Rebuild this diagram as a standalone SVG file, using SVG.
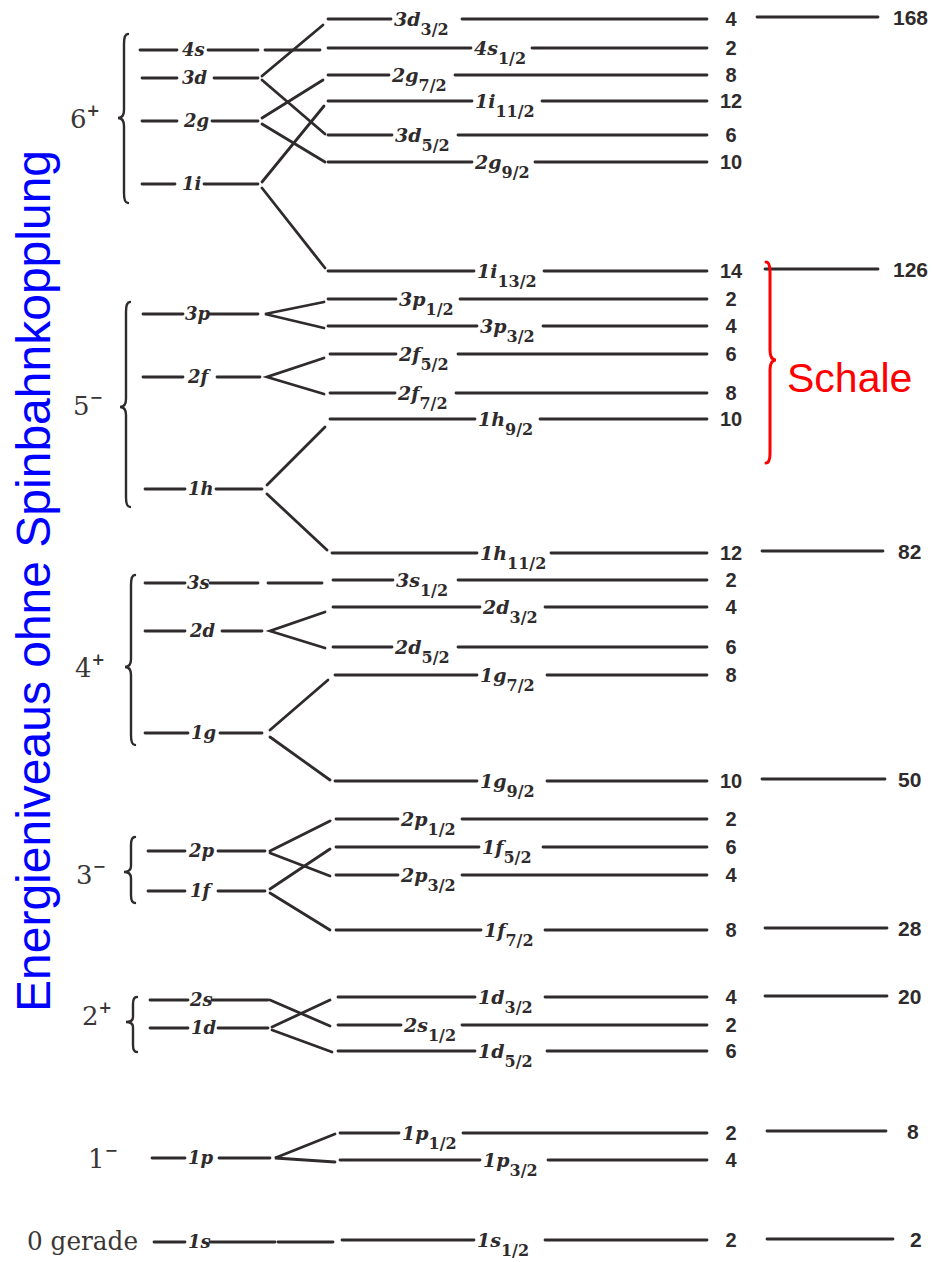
<svg xmlns="http://www.w3.org/2000/svg" width="932" height="1262" viewBox="0 0 932 1262">
  <style>
    .ln { stroke: #2f2b2c; stroke-width: 2.8; fill: none; stroke-linecap: round; }
    .br { stroke: #2f2b2c; stroke-width: 2.4; fill: none; stroke-linecap: round; }
    .lb { font-family: "DejaVu Serif", serif; font-style: italic; font-weight: bold; font-size: 19px; fill: #2f2b2c; }
    .sb { font-size: 16px; font-style: normal; }
    .lv { font-family: "DejaVu Serif", serif; font-style: italic; font-weight: bold; font-size: 18px; fill: #2f2b2c; }
    .ct { font-family: "Liberation Sans", sans-serif; font-weight: bold; font-size: 20px; fill: #2f2b2c; text-anchor: middle; }
    .tt { font-family: "Liberation Sans", sans-serif; font-weight: bold; font-size: 21px; fill: #2f2b2c; }
    .pa { font-family: "DejaVu Serif", serif; font-size: 26px; fill: #3a3636; }
    .sup { font-size: 16px; font-weight: bold; }
  </style>
  <rect width="932" height="1262" fill="#ffffff"/>

  <!-- vertical axis caption -->
  <text id="axis-caption" transform="translate(50,1012) rotate(-90)" font-family="'Liberation Sans', Arial, sans-serif" font-size="48" fill="#0000ff">Energieniveaus ohne Spinbahnkopplung</text>

  <!-- parity groups: labels and braces -->
  <g id="group-6">
    <text class="pa" x="70" y="128">6<tspan class="sup" dy="-12">+</tspan></text>
    <path class="br" d="M128,34 Q124,34 124,44 L124,110 Q124,118 118,118 Q124,118 124,126 L124,193 Q124,203 128,203"/>
  </g>
  <g id="group-5">
    <text class="pa" x="73" y="415">5<tspan class="sup" dy="-12">−</tspan></text>
    <path class="br" d="M130,302 Q126,302 126,312 L126,399 Q126,407 120,407 Q126,407 126,415 L126,497 Q126,507 130,507"/>
  </g>
  <g id="group-4">
    <text class="pa" x="75" y="677">4<tspan class="sup" dy="-12">+</tspan></text>
    <path class="br" d="M135,575 Q131,575 131,585 L131,659 Q131,667 125,667 Q131,667 131,675 L131,735 Q131,745 135,745"/>
  </g>
  <g id="group-3">
    <text class="pa" x="76" y="884">3<tspan class="sup" dy="-12">−</tspan></text>
    <path class="br" d="M135,837 Q131,837 131,845 L131,866 Q131,872 124,872 Q131,872 131,878 L131,895 Q131,903 135,903"/>
  </g>
  <g id="group-2">
    <text class="pa" x="82" y="1025">2<tspan class="sup" dy="-12">+</tspan></text>
    <path class="br" d="M137,997 Q133,997 133,1004 L133,1017 Q133,1022 126,1022 Q133,1022 133,1027 L133,1045 Q133,1052 137,1052"/>
  </g>
  <g id="group-1">
    <text class="pa" x="88" y="1168">1<tspan class="sup" dy="-12">−</tspan></text>
  </g>
  <g id="group-0">
    <text class="pa" x="27" y="1250" textLength="111" lengthAdjust="spacingAndGlyphs">0 gerade</text>
  </g>

  <!-- levels without spin-orbit coupling -->
  <g id="lvl-4s"><path class="ln" d="M140,50 H177 M208,50 H258"/><text class="lv" x="182" y="56">4s</text></g>
  <g id="lvl-3d"><path class="ln" d="M142,78 H177 M214,78 H258"/><text class="lv" x="182" y="84">3d</text></g>
  <g id="lvl-2g"><path class="ln" d="M142,121 H177 M212,121 H258"/><text class="lv" x="184" y="127">2g</text></g>
  <g id="lvl-1i"><path class="ln" d="M142,184 H175 M204,184 H258"/><text class="lv" x="182" y="190">1i</text></g>
  <g id="lvl-3p"><path class="ln" d="M143,314 H183 M210,314 H258"/><text class="lv" x="185" y="320">3p</text></g>
  <g id="lvl-2f"><path class="ln" d="M143,377 H183 M217,377 H260"/><text class="lv" x="188" y="383">2f</text></g>
  <g id="lvl-1h"><path class="ln" d="M145,489 H185 M216,489 H262"/><text class="lv" x="188" y="495">1h</text></g>
  <g id="lvl-3s"><path class="ln" d="M145,583 H185 M210,583 H258"/><text class="lv" x="187" y="589">3s</text></g>
  <g id="lvl-2d"><path class="ln" d="M145,631 H185 M222,631 H262"/><text class="lv" x="190" y="637">2d</text></g>
  <g id="lvl-1g"><path class="ln" d="M145,733 H188 M220,733 H262"/><text class="lv" x="191" y="739">1g</text></g>
  <g id="lvl-2p"><path class="ln" d="M148,851 H185 M218,851 H265"/><text class="lv" x="189" y="857">2p</text></g>
  <g id="lvl-1f"><path class="ln" d="M148,891 H185 M218,891 H265"/><text class="lv" x="190" y="897">1f</text></g>
  <g id="lvl-2s"><path class="ln" d="M150,1000 H188 M212,1000 H268"/><text class="lv" x="190" y="1006">2s</text></g>
  <g id="lvl-1d"><path class="ln" d="M150,1028 H188 M218,1028 H268"/><text class="lv" x="191" y="1034">1d</text></g>
  <g id="lvl-1p"><path class="ln" d="M152,1158 H185 M219,1158 H270"/><text class="lv" x="188" y="1164">1p</text></g>
  <g id="lvl-1s"><path class="ln" d="M154,1242 H185 M210,1242 H275"/><text class="lv" x="188" y="1248">1s</text></g>

  <!-- split levels with occupation numbers -->
  <g id="lvl-3d32"><path class="ln" d="M328,19 H391 M462,19 H707"/><text class="lb" x="394" y="26">3d<tspan class="sb" dy="9">3/2</tspan></text><text class="ct" x="731" y="26">4</text></g>
  <g id="lvl-4s12"><path class="ln" d="M328,48 H471 M532,48 H707"/><text class="lb" x="474" y="55">4s<tspan class="sb" dy="9">1/2</tspan></text><text class="ct" x="731" y="55">2</text></g>
  <g id="lvl-2g72"><path class="ln" d="M328,75 H389 M455,75 H707"/><text class="lb" x="392" y="82">2g<tspan class="sb" dy="9">7/2</tspan></text><text class="ct" x="731" y="82">8</text></g>
  <g id="lvl-1i112"><path class="ln" d="M328,101 H472 M542,101 H707"/><text class="lb" x="475" y="108">1i<tspan class="sb" dy="9">11/2</tspan></text><text class="ct" x="731" y="108">12</text></g>
  <g id="lvl-3d52"><path class="ln" d="M328,135 H392 M458,135 H707"/><text class="lb" x="395" y="142">3d<tspan class="sb" dy="9">5/2</tspan></text><text class="ct" x="731" y="142">6</text></g>
  <g id="lvl-2g92"><path class="ln" d="M328,162 H472 M535,162 H707"/><text class="lb" x="475" y="169">2g<tspan class="sb" dy="9">9/2</tspan></text><text class="ct" x="731" y="169">10</text></g>
  <g id="lvl-1i132"><path class="ln" d="M328,271 H474 M544,271 H707"/><text class="lb" x="477" y="278">1i<tspan class="sb" dy="9">13/2</tspan></text><text class="ct" x="731" y="278">14</text></g>
  <g id="lvl-3p12"><path class="ln" d="M328,299 H396 M460,299 H707"/><text class="lb" x="399" y="306">3p<tspan class="sb" dy="9">1/2</tspan></text><text class="ct" x="731" y="306">2</text></g>
  <g id="lvl-3p32"><path class="ln" d="M328,326 H477 M543,326 H707"/><text class="lb" x="480" y="333">3p<tspan class="sb" dy="9">3/2</tspan></text><text class="ct" x="731" y="333">4</text></g>
  <g id="lvl-2f52"><path class="ln" d="M330,354 H396 M458,354 H707"/><text class="lb" x="399" y="361">2f<tspan class="sb" dy="9">5/2</tspan></text><text class="ct" x="731" y="361">6</text></g>
  <g id="lvl-2f72"><path class="ln" d="M330,393 H395 M456,393 H707"/><text class="lb" x="398" y="400">2f<tspan class="sb" dy="9">7/2</tspan></text><text class="ct" x="731" y="400">8</text></g>
  <g id="lvl-1h92"><path class="ln" d="M330,419 H475 M540,419 H707"/><text class="lb" x="478" y="426">1h<tspan class="sb" dy="9">9/2</tspan></text><text class="ct" x="731" y="426">10</text></g>
  <g id="lvl-1h112"><path class="ln" d="M332,553 H477 M551,553 H707"/><text class="lb" x="480" y="560">1h<tspan class="sb" dy="9">11/2</tspan></text><text class="ct" x="731" y="560">12</text></g>
  <g id="lvl-3s12"><path class="ln" d="M333,580 H393 M458,580 H707"/><text class="lb" x="396" y="587">3s<tspan class="sb" dy="9">1/2</tspan></text><text class="ct" x="731" y="587">2</text></g>
  <g id="lvl-2d32"><path class="ln" d="M333,607 H480 M545,607 H707"/><text class="lb" x="483" y="614">2d<tspan class="sb" dy="9">3/2</tspan></text><text class="ct" x="731" y="614">4</text></g>
  <g id="lvl-2d52"><path class="ln" d="M333,647 H392 M458,647 H707"/><text class="lb" x="395" y="654">2d<tspan class="sb" dy="9">5/2</tspan></text><text class="ct" x="731" y="654">6</text></g>
  <g id="lvl-1g72"><path class="ln" d="M335,675 H477 M547,675 H707"/><text class="lb" x="480" y="682">1g<tspan class="sb" dy="9">7/2</tspan></text><text class="ct" x="731" y="682">8</text></g>
  <g id="lvl-1g92"><path class="ln" d="M335,781 H477 M547,781 H707"/><text class="lb" x="480" y="788">1g<tspan class="sb" dy="9">9/2</tspan></text><text class="ct" x="731" y="788">10</text></g>
  <g id="lvl-2p12"><path class="ln" d="M336,819 H398 M462,819 H707"/><text class="lb" x="401" y="826">2p<tspan class="sb" dy="9">1/2</tspan></text><text class="ct" x="731" y="826">2</text></g>
  <g id="lvl-1f52"><path class="ln" d="M336,847 H479 M543,847 H707"/><text class="lb" x="482" y="854">1f<tspan class="sb" dy="9">5/2</tspan></text><text class="ct" x="731" y="854">6</text></g>
  <g id="lvl-2p32"><path class="ln" d="M336,875 H398 M462,875 H707"/><text class="lb" x="401" y="882">2p<tspan class="sb" dy="9">3/2</tspan></text><text class="ct" x="731" y="882">4</text></g>
  <g id="lvl-1f72"><path class="ln" d="M336,930 H481 M545,930 H707"/><text class="lb" x="484" y="937">1f<tspan class="sb" dy="9">7/2</tspan></text><text class="ct" x="731" y="937">8</text></g>
  <g id="lvl-1d32"><path class="ln" d="M338,997 H475 M545,997 H707"/><text class="lb" x="478" y="1004">1d<tspan class="sb" dy="9">3/2</tspan></text><text class="ct" x="731" y="1004">4</text></g>
  <g id="lvl-2s12"><path class="ln" d="M338,1025 H401 M462,1025 H707"/><text class="lb" x="404" y="1032">2s<tspan class="sb" dy="9">1/2</tspan></text><text class="ct" x="731" y="1032">2</text></g>
  <g id="lvl-1d52"><path class="ln" d="M338,1051 H475 M547,1051 H707"/><text class="lb" x="478" y="1058">1d<tspan class="sb" dy="9">5/2</tspan></text><text class="ct" x="731" y="1058">6</text></g>
  <g id="lvl-1p12"><path class="ln" d="M340,1133 H399 M463,1133 H707"/><text class="lb" x="402" y="1140">1p<tspan class="sb" dy="9">1/2</tspan></text><text class="ct" x="731" y="1140">2</text></g>
  <g id="lvl-1p32"><path class="ln" d="M340,1160 H480 M548,1160 H707"/><text class="lb" x="483" y="1167">1p<tspan class="sb" dy="9">3/2</tspan></text><text class="ct" x="731" y="1167">4</text></g>
  <g id="lvl-1s12"><path class="ln" d="M342,1240 H474 M545,1240 H707"/><text class="lb" x="477" y="1247">1s<tspan class="sb" dy="9">1/2</tspan></text><text class="ct" x="731" y="1247">2</text></g>

  <!-- cumulative magic numbers -->
  <g id="magic-168"><path class="ln" d="M757,17 H878"/><text class="tt" x="893" y="25">168</text></g>
  <g id="magic-126"><path class="ln" d="M765,269 H878"/><text class="tt" x="893" y="277">126</text></g>
  <g id="magic-82"><path class="ln" d="M762,551 H883"/><text class="tt" x="898" y="559">82</text></g>
  <g id="magic-50"><path class="ln" d="M762,779 H885"/><text class="tt" x="898" y="787">50</text></g>
  <g id="magic-28"><path class="ln" d="M765,928 H887"/><text class="tt" x="898" y="936">28</text></g>
  <g id="magic-20"><path class="ln" d="M765,996 H887"/><text class="tt" x="898" y="1004">20</text></g>
  <g id="magic-8"><path class="ln" d="M767,1131 H886"/><text class="tt" x="907" y="1139">8</text></g>
  <g id="magic-2"><path class="ln" d="M767,1239 H893"/><text class="tt" x="910" y="1247">2</text></g>

  <!-- shell bracket -->
  <g id="shell">
    <path d="M766,262 Q770,262 770,272 L770,350 Q770,360 776,360 Q770,360 770,370 L770,453 Q770,463 766,463" fill="none" stroke="#ff0000" stroke-width="3" stroke-linecap="round"/>
    <text x="787" y="392" font-family="'Liberation Sans', Arial, sans-serif" font-size="41" fill="#ff0000">Schale</text>
  </g>

  <!-- splitting connectors -->
  <g id="connectors" class="ln">
    <path d="M265,50 H320"/>
    <path d="M262,76 L323,25"/>
    <path d="M262,80 L325,134"/>
    <path d="M262,118 L323,80"/>
    <path d="M262,124 L325,162"/>
    <path d="M262,182 L324,106"/>
    <path d="M262,188 L325,268"/>
    <path d="M324,302 L265,314 L324,328"/>
    <path d="M324,358 L267,377 L324,394"/>
    <path d="M267,485 L325,427"/>
    <path d="M267,494 L327,550"/>
    <path d="M268,583 H322"/>
    <path d="M325,612 L270,631 L325,648"/>
    <path d="M270,730 L328,680"/>
    <path d="M270,737 L330,780"/>
    <path d="M270,851 L330,821"/>
    <path d="M270,853 L330,876"/>
    <path d="M270,889 L330,849"/>
    <path d="M270,893 L330,930"/>
    <path d="M270,1000 L330,1026"/>
    <path d="M272,1027 L330,1000"/>
    <path d="M272,1030 L332,1052"/>
    <path d="M335,1134 L275,1158 L335,1162"/>
    <path d="M278,1242 H333"/>
  </g>
</svg>
